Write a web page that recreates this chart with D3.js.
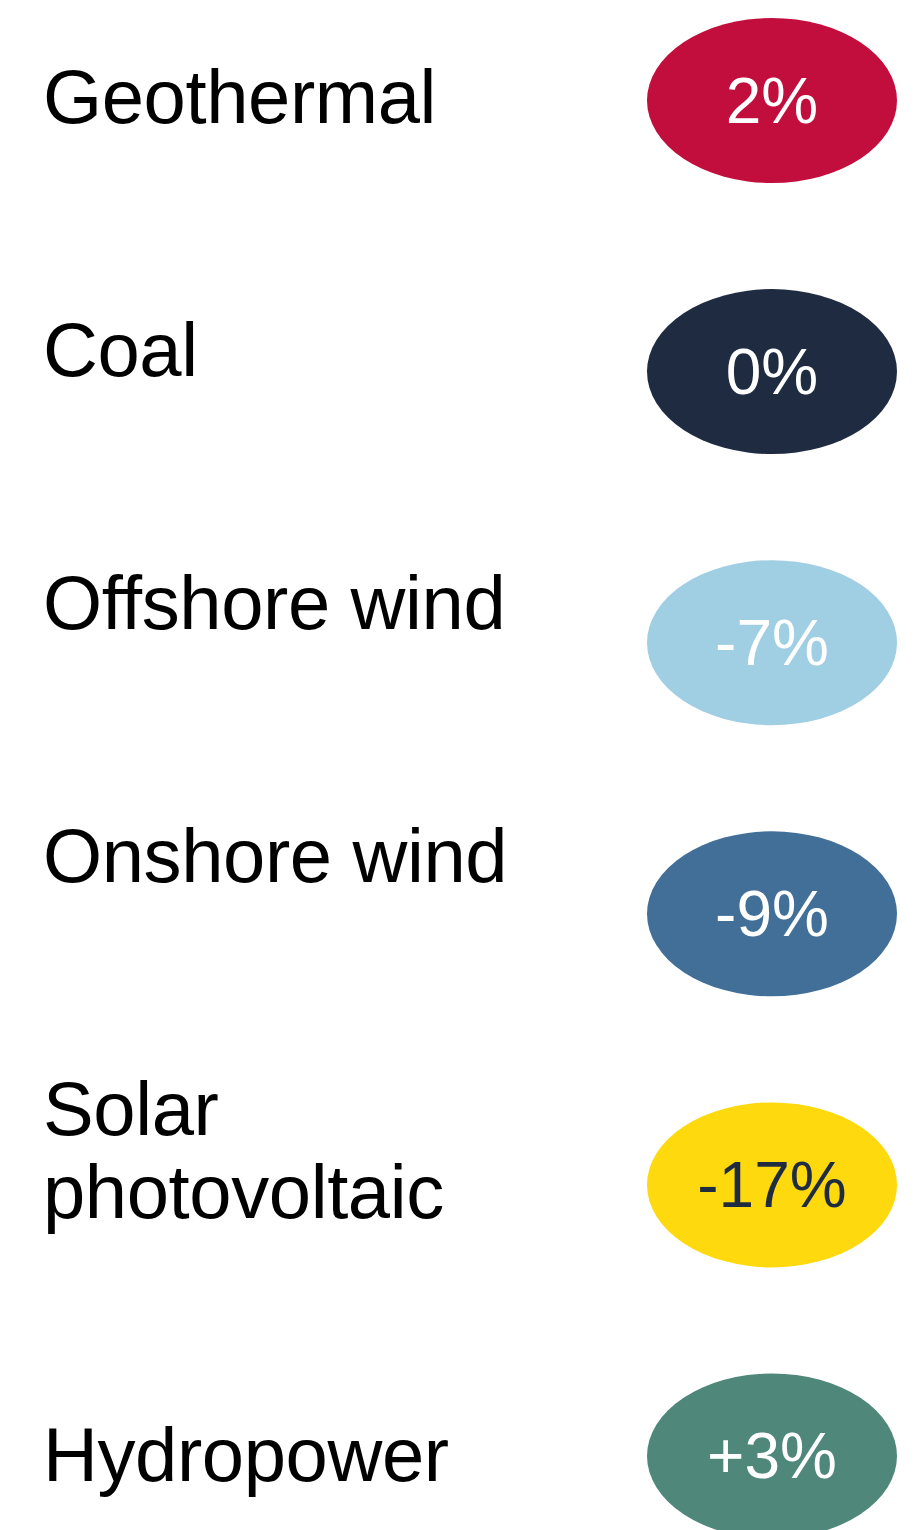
<!DOCTYPE html>
<html>
<head>
<meta charset="utf-8">
<script src="https://cdn.jsdelivr.net/npm/d3@7"></script>
<style>
  html, body { margin: 0; padding: 0; background: #fff; }
  svg { display: block; }
</style>
</head>
<body>
<svg id="chart" width="923" height="1530"></svg>
<script>
// ---- data ----
const categories = ["Geothermal", "Coal", "Offshore wind", "Onshore wind", "Solar photovoltaic", "Hydropower"];
const labelLines = [["Geothermal"], ["Coal"], ["Offshore wind"], ["Onshore wind"], ["Solar", "photovoltaic"], ["Hydropower"]];
const values = [2, 0, -7, -9, -17, 3];
const valueLabels = ["2%", "0%", "-7%", "-9%", "-17%", "+3%"];
const fillColors = ["#c20e3c", "#1f2b40", "#a0cee3", "#426f98", "#fdd90e", "#4f877a"];
const textColors = ["#ffffff", "#ffffff", "#ffffff", "#ffffff", "#1f2b40", "#ffffff"];

// ---- layout ----
const svg = d3.select("#chart");
const rowY = d3.scalePoint().domain(categories).range([100.5, 1456]);
const cx = 772, rx = 125, ry = 82.5;
// label baselines (first line)
const labelBase = d3.scaleLinear().domain([0, 4]).range([123, 1135]);
const labelY = (i) => i === categories.length - 1 ? rowY(categories[i]) + 25 : labelBase(i);

const rows = svg.selectAll("g.row")
  .data(categories)
  .join("g")
  .attr("class", "row");

rows.append("text")
  .attr("x", 43)
  .attr("y", (d, i) => labelY(i))
  .attr("font-family", "'Liberation Sans', Arial, Helvetica, sans-serif")
  .attr("font-size", 76)
  .attr("letter-spacing", "-0.4px")
  .attr("fill", "#000")
  .selectAll("tspan")
  .data((d, i) => labelLines[i])
  .join("tspan")
  .attr("x", 43)
  .attr("dy", (d, j) => j === 0 ? 0 : 83)
  .text(d => d);

rows.append("ellipse")
  .attr("cx", cx)
  .attr("cy", d => rowY(d))
  .attr("rx", rx)
  .attr("ry", ry)
  .attr("fill", (d, i) => fillColors[i]);

rows.append("text")
  .attr("x", cx)
  .attr("y", d => rowY(d))
  .attr("dy", "0.35em")
  .attr("text-anchor", "middle")
  .attr("font-family", "'Liberation Sans', Arial, Helvetica, sans-serif")
  .attr("font-size", 64)
  .attr("fill", (d, i) => textColors[i])
  .text((d, i) => valueLabels[i]);
</script>
</body>
</html>
